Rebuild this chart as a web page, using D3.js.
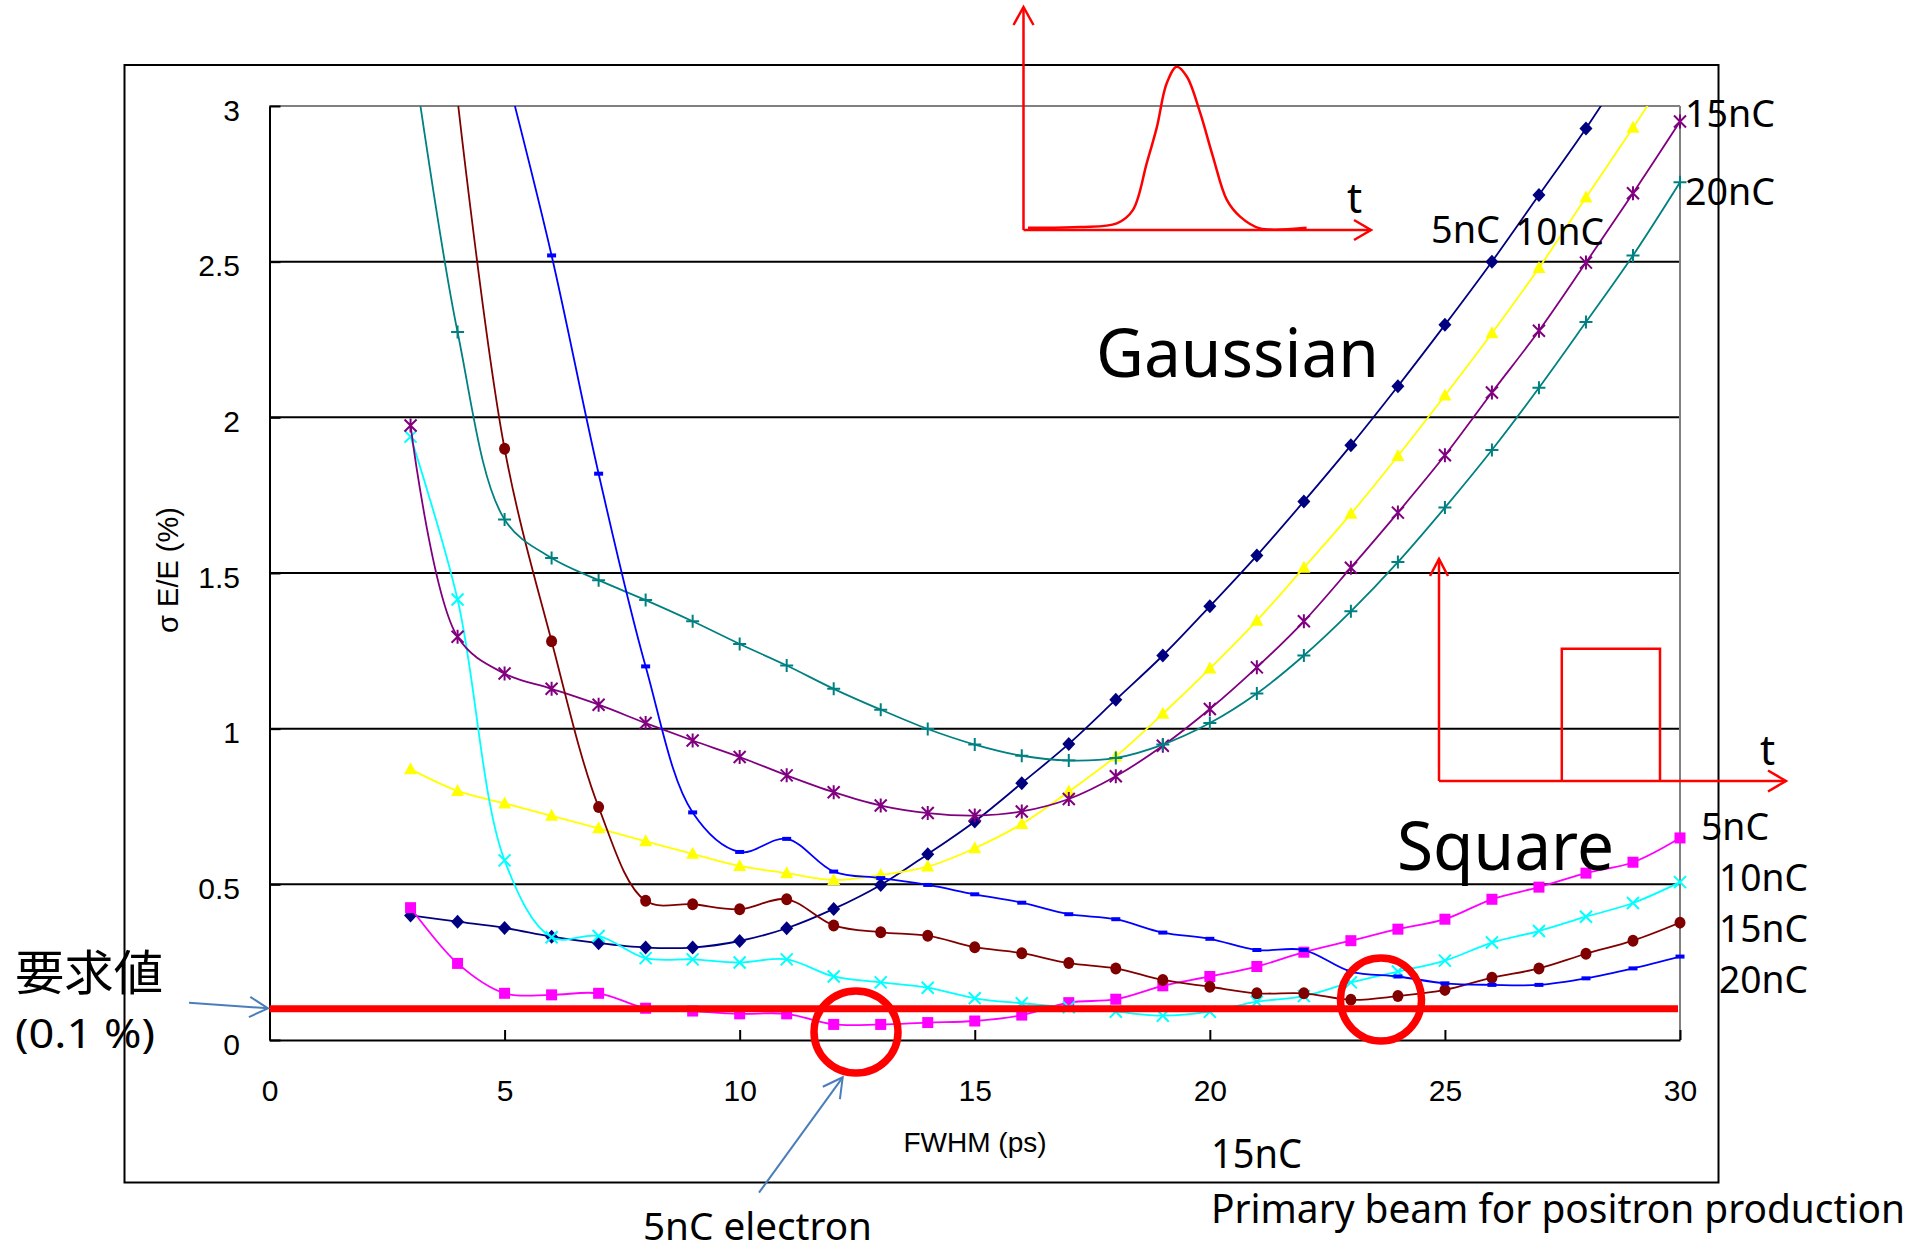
<!DOCTYPE html>
<html>
<head>
<meta charset="utf-8">
<script src="https://cdn.jsdelivr.net/npm/d3@7"></script>
<style>
  body { margin: 0; background: #fff; }
  svg text { font-family: "Noto Sans", sans-serif; fill: #000; }
</style>
</head>
<body>
<svg id="chart" width="1930" height="1252"></svg>
<script>
// FWHM (ps) values of the simulated points
const fwhm = [3, 4, 5, 6, 7, 8, 9, 10, 11, 12, 13, 14, 15, 16, 17, 18, 19, 20, 21, 22, 23, 24, 25, 26, 27, 28, 29, 30];

// Gaussian pulse, sigma E / E (%)
const gauss5 = [0.40, 0.38, 0.36, 0.332, 0.311, 0.297, 0.297, 0.318, 0.359, 0.421, 0.498, 0.597, 0.702, 0.825, 0.951, 1.093, 1.235, 1.393, 1.556, 1.73, 1.91, 2.10, 2.297, 2.50, 2.714, 2.928, 3.16, null];
const gauss10 = [0.87, 0.80, 0.76, 0.72, 0.68, 0.638, 0.598, 0.559, 0.536, 0.514, 0.53, 0.557, 0.616, 0.694, 0.798, 0.911, 1.048, 1.193, 1.347, 1.517, 1.69, 1.876, 2.07, 2.27, 2.48, 2.706, 2.93, 3.16];
const gauss15 = [1.974, 1.295, 1.177, 1.128, 1.077, 1.018, 0.962, 0.909, 0.85, 0.796, 0.753, 0.729, 0.721, 0.734, 0.774, 0.847, 0.945, 1.063, 1.197, 1.345, 1.517, 1.694, 1.878, 2.08, 2.278, 2.497, 2.72, 2.95];
const gauss20 = [3.22, 2.274, 1.672, 1.548, 1.477, 1.413, 1.345, 1.272, 1.203, 1.128, 1.061, 0.999, 0.949, 0.913, 0.898, 0.906, 0.949, 1.018, 1.113, 1.235, 1.377, 1.535, 1.71, 1.895, 2.095, 2.306, 2.52, 2.755];

// Square pulse
const square5 = [0.425, 0.246, 0.150, 0.145, 0.150, 0.102, 0.093, 0.084, 0.084, 0.050, 0.050, 0.056, 0.061, 0.080, 0.12, 0.131, 0.174, 0.204, 0.236, 0.282, 0.319, 0.356, 0.388, 0.452, 0.491, 0.536, 0.571, 0.649];
const square10 = [1.938, 1.415, 0.577, 0.330, 0.334, 0.263, 0.259, 0.249, 0.259, 0.204, 0.185, 0.168, 0.134, 0.118, 0.105, 0.091, 0.078, 0.091, 0.123, 0.141, 0.185, 0.22, 0.255, 0.313, 0.35, 0.396, 0.44, 0.507];
const square15 = [null, 3.02, 1.899, 1.281, 0.748, 0.447, 0.436, 0.42, 0.452, 0.368, 0.346, 0.335, 0.298, 0.279, 0.247, 0.23, 0.193, 0.171, 0.15, 0.15, 0.129, 0.141, 0.161, 0.20, 0.23, 0.277, 0.319, 0.377];
const square20 = [null, null, 3.13, 2.52, 1.819, 1.20, 0.731, 0.604, 0.646, 0.541, 0.52, 0.498, 0.468, 0.441, 0.404, 0.388, 0.345, 0.325, 0.289, 0.289, 0.22, 0.204, 0.182, 0.177, 0.177, 0.198, 0.23, 0.268];

const requirement = 0.1;

const xTicks = [0, 5, 10, 15, 20, 25, 30];
const xTickLabels = ["0", "5", "10", "15", "20", "25", "30"];
const yTicks = [0, 0.5, 1, 1.5, 2, 2.5, 3];
const yTickLabels = ["0", "0.5", "1", "1.5", "2", "2.5", "3"];

// pulse sketch in the insets: relative time, relative amplitude
const pulseT = [0.013, 0.162, 0.268, 0.314, 0.354, 0.383, 0.411, 0.44, 0.469, 0.507, 0.544, 0.584, 0.622, 0.679, 0.813];
const pulseA = [0.014, 0.018, 0.041, 0.122, 0.41, 0.63, 0.897, 1.0, 0.94, 0.72, 0.45, 0.184, 0.082, 0.01, 0.014];

const series = [
  { values: gauss5, color: "#000080", marker: "diamond" },
  { values: square5, color: "#FF00FF", marker: "square" },
  { values: gauss10, color: "#FFFF00", marker: "triangle" },
  { values: square10, color: "#00FFFF", marker: "x" },
  { values: gauss15, color: "#800080", marker: "star" },
  { values: square15, color: "#800000", marker: "circle" },
  { values: gauss20, color: "#008080", marker: "plus" },
  { values: square20, color: "#0000FF", marker: "dash" }
];

const svg = d3.select("#chart");
svg.append("rect").attr("width", 1930).attr("height", 1252).attr("fill", "#fff");

const x = d3.scaleLinear().domain([0, 30]).range([269.5, 1680]);
const y = d3.scaleLinear().domain([0, 3]).range([1040, 106]);

// outer chart frame
svg.append("rect")
  .attr("x", 124.5).attr("y", 65).attr("width", 1594).attr("height", 1117.5)
  .attr("fill", "none").attr("stroke", "#000").attr("stroke-width", 2);

// gridlines
svg.append("g").selectAll("line")
  .data(yTicks.slice(1))
  .join("line")
  .attr("x1", x(0)).attr("x2", x(30))
  .attr("y1", d => y(d)).attr("y2", d => y(d))
  .attr("stroke", d => d === 3 ? "#808080" : "#000")
  .attr("stroke-width", 2);
svg.append("line")
  .attr("x1", x(30)).attr("x2", x(30)).attr("y1", y(3)).attr("y2", y(0))
  .attr("stroke", "#808080").attr("stroke-width", 2);

// axes
const xAxis = svg.append("g")
  .attr("transform", `translate(0,${y(0)})`)
  .call(d3.axisBottom(x).tickValues(xTicks).tickFormat((d, i) => xTickLabels[i])
    .tickSizeInner(-10).tickSizeOuter(0).tickPadding(40));
const yAxis = svg.append("g")
  .attr("transform", `translate(${x(0)},0)`)
  .call(d3.axisLeft(y).tickValues(yTicks).tickFormat((d, i) => yTickLabels[i])
    .tickSizeInner(-11).tickSizeOuter(0).tickPadding(29.5));
[xAxis, yAxis].forEach(g => {
  g.select(".domain").attr("stroke", "#000").attr("stroke-width", 2);
  g.selectAll(".tick line").attr("stroke", "#000").attr("stroke-width", 2);
  g.selectAll(".tick text")
    .style("font-family", "'Liberation Sans', Arial, sans-serif")
    .attr("font-size", 30);
});
yAxis.selectAll(".tick text").attr("dy", "0.47em");

svg.append("text")
  .attr("x", 975).attr("y", 1152).attr("text-anchor", "middle")
  .style("font-family", "'Liberation Sans', Arial, sans-serif")
  .attr("font-size", 28)
  .text("FWHM (ps)");
svg.append("text")
  .attr("transform", "translate(178,570) rotate(-90)")
  .attr("text-anchor", "middle")
  .style("font-family", "'Liberation Sans', Arial, sans-serif")
  .attr("font-size", 29)
  .text("σ E/E (%)");

// series
svg.append("defs").append("clipPath").attr("id", "plotClip")
  .append("rect").attr("x", x(0)).attr("y", y(3))
  .attr("width", x(30) - x(0)).attr("height", y(0) - y(3));

const line = d3.line()
  .defined(d => d.v !== null)
  .x(d => x(d.x)).y(d => y(d.v))
  .curve(d3.curveCatmullRom);

const markerPath = {
  diamond: "M0,-7L6.5,0L0,7L-6.5,0Z",
  square: "M-5.5,-5.5H5.5V5.5H-5.5Z",
  triangle: "M0,-7L6.5,5H-6.5Z",
  circle: "M-5.5,0A5.5,6 0 1,0 5.5,0A5.5,6 0 1,0 -5.5,0Z",
  dash: "M-4.5,-2H4.5V2H-4.5Z",
  x: "M-6,-6L6,6M-6,6L6,-6",
  star: "M-6,-6L6,6M-6,6L6,-6M0,-7V7",
  plus: "M-6.5,0H6.5M0,-6.5V6.5"
};
const stroked = new Set(["x", "star", "plus"]);

const gSeries = svg.append("g");
series.forEach(s => {
  const pts = fwhm.map((f, i) => ({ x: f, v: s.values[i] }));
  gSeries.append("path")
    .attr("clip-path", "url(#plotClip)")
    .attr("d", line(pts))
    .attr("fill", "none").attr("stroke", s.color).attr("stroke-width", 1.8);
  gSeries.append("g").selectAll("path")
    .data(pts.filter(d => d.v !== null && d.v <= 3))
    .join("path")
    .attr("transform", d => `translate(${x(d.x)},${y(d.v)})`)
    .attr("d", markerPath[s.marker])
    .attr("fill", stroked.has(s.marker) ? "none" : s.color)
    .attr("stroke", stroked.has(s.marker) ? s.color : "none")
    .attr("stroke-width", 2);
});

// requirement line
svg.append("line")
  .attr("x1", x(0)).attr("x2", x(30) - 2)
  .attr("y1", y(requirement)).attr("y2", y(requirement))
  .attr("stroke", "#FF0000").attr("stroke-width", 7);

// red circles
svg.append("ellipse").attr("cx", 856).attr("cy", 1032).attr("rx", 42).attr("ry", 41)
  .attr("fill", "none").attr("stroke", "#FF0000").attr("stroke-width", 7.5);
svg.append("ellipse").attr("cx", 1381).attr("cy", 999.5).attr("rx", 40.5).attr("ry", 41.5)
  .attr("fill", "none").attr("stroke", "#FF0000").attr("stroke-width", 7.5);

// blue arrows
const arrowBlue = "#4A7EBB";
function arrow(x1, y1, x2, y2, head, color, width) {
  const a = Math.atan2(y2 - y1, x2 - x1);
  const g = svg.append("g").attr("fill", "none").attr("stroke", color).attr("stroke-width", width);
  g.append("line").attr("x1", x1).attr("y1", y1).attr("x2", x2).attr("y2", y2);
  const p1 = [x2 - head * Math.cos(a - 0.5), y2 - head * Math.sin(a - 0.5)];
  const p2 = [x2 - head * Math.cos(a + 0.5), y2 - head * Math.sin(a + 0.5)];
  g.append("path").attr("d", `M${p1}L${x2},${y2}L${p2}`);
}
arrow(189, 1002.7, 268, 1008.3, 21, arrowBlue, 2);
arrow(759, 1192.7, 842.7, 1077.3, 22, arrowBlue, 2);

// Gaussian inset
const gi = svg.append("g").attr("fill", "none").attr("stroke", "#FF0000").attr("stroke-width", 2.5);
gi.append("line").attr("x1", 1023.5).attr("y1", 230).attr("x2", 1023.5).attr("y2", 7);
gi.append("path").attr("d", "M1013.5,25L1023.5,7L1033.5,25");
gi.append("line").attr("x1", 1023.5).attr("y1", 230).attr("x2", 1371).attr("y2", 230);
gi.append("path").attr("d", "M1354,220L1371,230L1354,240");
const pt = d3.scaleLinear().domain([0, 1]).range([1023.5, 1371.7]);
const pa = d3.scaleLinear().domain([0, 1]).range([230, 66.7]);
gi.append("path")
  .attr("d", d3.line().x(d => pt(d[0])).y(d => pa(d[1])).curve(d3.curveCatmullRom)(pulseT.map((t, i) => [t, pulseA[i]])));

// Square inset
const si = svg.append("g").attr("fill", "none").attr("stroke", "#FF0000").attr("stroke-width", 2.5);
si.append("line").attr("x1", 1439).attr("y1", 781).attr("x2", 1439).attr("y2", 559);
si.append("path").attr("d", "M1430,576L1439,559L1448,576");
si.append("line").attr("x1", 1439).attr("y1", 781).attr("x2", 1786).attr("y2", 781);
si.append("path").attr("d", "M1768,770.5L1786,781L1768,791.5");
si.append("path").attr("d", "M1561.8,781V648.7H1660V781");

// texts
const txt = (s, px, py, size, len) => {
  const t = svg.append("text").attr("x", px).attr("y", py).attr("font-size", size).text(s);
  if (len) t.attr("textLength", len).attr("lengthAdjust", "spacingAndGlyphs");
  return t;
};
txt("t", 1347, 213, 42);
txt("t", 1760, 765, 42);
txt("Gaussian", 1096, 377, 68, 283);
txt("Square", 1397, 870, 68, 217);

txt("5nC", 1431, 243, 39, 69);
txt("10nC", 1515, 245, 39, 89);
txt("15nC", 1685, 127, 39, 90);
txt("20nC", 1685, 205, 39, 90);
txt("5nC", 1701, 840, 39, 68);
txt("10nC", 1719, 891, 39, 89);
txt("15nC", 1719, 942, 39, 89);
txt("20nC", 1719, 993, 39, 89);
txt("15nC", 1211, 1168, 40, 91);
txt("Primary beam for positron production", 1211, 1223, 40, 694);
txt("5nC electron", 643, 1240, 39, 229);

svg.append("text").attr("x", 15).attr("y", 990).attr("font-size", 48)
  .style("font-family", "'Noto Sans CJK JP', sans-serif")
  .attr("textLength", 148).attr("lengthAdjust", "spacingAndGlyphs")
  .text("要求値");
txt("(0.1 %)", 15, 1048, 40, 140);
</script>
</body>
</html>
